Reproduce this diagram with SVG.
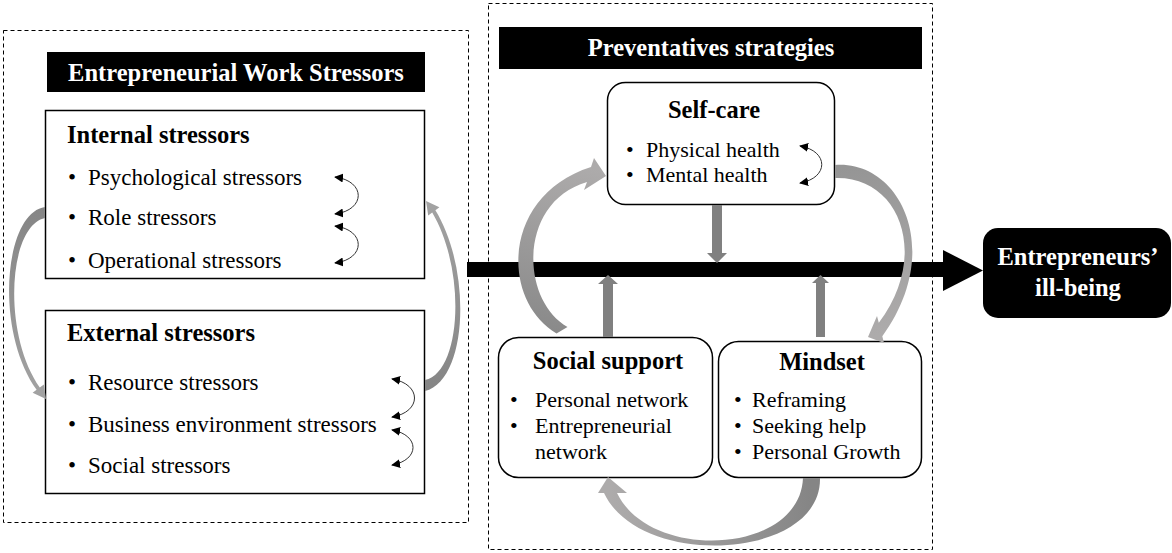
<svg xmlns="http://www.w3.org/2000/svg" width="1172" height="553" viewBox="0 0 1172 553">
  <style>
    text { font-family: "Liberation Serif", "Times New Roman", serif; fill: #000; }
    .hd { font-weight: bold; font-size: 24.5px; }
    .hdw { font-weight: bold; font-size: 24.5px; fill: #fff; text-anchor: middle; }
    .it { font-size: 23px; }
    .it2 { font-size: 22px; }
    .dash { fill: none; stroke: #000; stroke-width: 1; stroke-dasharray: 4 3; }
    .box { fill: #fff; stroke: #000; stroke-width: 1.5; }
    .bar { fill: #000; }
    .thin { fill: none; stroke: #333; stroke-width: 1; marker-start: url(#tip); marker-end: url(#tip); }
    .straight { fill: #808080; }
  </style>
  <defs>
    <marker id="tip" viewBox="0 0 10 10" refX="9" refY="5" markerWidth="9" markerHeight="9" markerUnits="userSpaceOnUse" orient="auto-start-reverse">
      <path d="M0,0 L10,5 L0,10 Z" fill="#000"/>
    </marker>
    <linearGradient id="gA" gradientUnits="userSpaceOnUse" x1="0" y1="207" x2="0" y2="399">
      <stop offset="0" stop-color="#858585"/>
      <stop offset="1" stop-color="#a3a3a3"/>
    </linearGradient>
    <linearGradient id="gB" gradientUnits="userSpaceOnUse" x1="0" y1="390" x2="0" y2="201">
      <stop offset="0" stop-color="#858585"/>
      <stop offset="1" stop-color="#a3a3a3"/>
    </linearGradient>
    <linearGradient id="gC" gradientUnits="userSpaceOnUse" x1="560" y1="332" x2="600" y2="170">
      <stop offset="0" stop-color="#8a8a8a"/>
      <stop offset="1" stop-color="#adabab"/>
    </linearGradient>
    <linearGradient id="gD" gradientUnits="userSpaceOnUse" x1="835" y1="170" x2="875" y2="335">
      <stop offset="0" stop-color="#959595"/>
      <stop offset="1" stop-color="#adabab"/>
    </linearGradient>
    <linearGradient id="gE" gradientUnits="userSpaceOnUse" x1="812" y1="480" x2="610" y2="485">
      <stop offset="0" stop-color="#858585"/>
      <stop offset="1" stop-color="#adabab"/>
    </linearGradient>
  </defs>

  <rect width="1172" height="553" fill="#fff"/>

  <!-- stressors panel -->
  <g id="stressors-panel">
    <rect class="dash" x="3.5" y="30.5" width="465" height="492"/>
    <rect x="47" y="52" width="378" height="40" fill="#000"/>
    <text class="hdw" x="236" y="81">Entrepreneurial Work Stressors</text>
  </g>

  <g id="internal-stressors">
    <rect class="box" x="45.5" y="110.5" width="379" height="168"/>
    <text class="hd" x="67" y="143">Internal stressors</text>
    <text class="it" x="68" y="185">•</text>
    <text class="it" x="88" y="185">Psychological stressors</text>
    <text class="it" x="68" y="225">•</text>
    <text class="it" x="88" y="225">Role stressors</text>
    <text class="it" x="68" y="268">•</text>
    <text class="it" x="88" y="268">Operational stressors</text>
    <path class="thin" d="M335,177 C 366,181 366,210 335,214"/>
    <path class="thin" d="M335,226 C 366,230 366,259 335,263"/>
  </g>

  <g id="external-stressors">
    <rect class="box" x="45.5" y="310.5" width="379" height="183"/>
    <text class="hd" x="67" y="341">External stressors</text>
    <text class="it" x="68" y="390">•</text>
    <text class="it" x="88" y="390">Resource stressors</text>
    <text class="it" x="68" y="432">•</text>
    <text class="it" x="88" y="432">Business environment stressors</text>
    <text class="it" x="68" y="473">•</text>
    <text class="it" x="88" y="473">Social stressors</text>
    <path class="thin" d="M392,379 C 422,384 422,412 392,417"/>
    <path class="thin" d="M392,430 C 420,435 420,460 392,465"/>
  </g>

  <!-- strategies panel -->
  <g id="strategies-panel">
    <rect class="dash" x="488.5" y="3.5" width="444" height="546"/>
    <rect x="499" y="27" width="423" height="42" fill="#000"/>
    <text class="hdw" x="711" y="56">Preventatives strategies</text>
  </g>

  <g id="self-care">
    <rect class="box" x="607.5" y="82.5" width="227" height="122" rx="18"/>
    <text class="hd" x="714" y="118" text-anchor="middle">Self-care</text>
    <text class="it2" x="626" y="157">•</text>
    <text class="it2" x="646" y="157">Physical health</text>
    <text class="it2" x="626" y="182">•</text>
    <text class="it2" x="646" y="182">Mental health</text>
    <path class="thin" d="M800,146 C 829,151 829,178 800,183"/>
  </g>

  <g id="social-support">
    <rect class="box" x="498.5" y="337.5" width="214" height="140" rx="20"/>
    <text class="hd" x="608" y="369" text-anchor="middle">Social support</text>
    <text class="it2" x="510" y="407">•</text>
    <text class="it2" x="535" y="407">Personal network</text>
    <text class="it2" x="510" y="433">•</text>
    <text class="it2" x="535" y="433">Entrepreneurial</text>
    <text class="it2" x="535" y="459">network</text>
  </g>

  <g id="mindset">
    <rect class="box" x="718.5" y="341.5" width="203" height="136" rx="20"/>
    <text class="hd" x="822" y="370" text-anchor="middle">Mindset</text>
    <text class="it2" x="734" y="407">•</text>
    <text class="it2" x="752" y="407">Reframing</text>
    <text class="it2" x="734" y="433">•</text>
    <text class="it2" x="752" y="433">Seeking help</text>
    <text class="it2" x="734" y="459">•</text>
    <text class="it2" x="752" y="459">Personal Growth</text>
  </g>

  <g id="ill-being">
    <rect x="983" y="228" width="188" height="90" rx="15" fill="#000"/>
    <text class="hdw" x="1078" y="265">Entrepreneurs’</text>
    <text class="hdw" x="1078" y="296">ill-being</text>
  </g>

  <!-- connectors -->
  <g id="connectors">
    <!-- main path to ill-being -->
    <rect class="bar" x="467" y="262" width="477" height="15"/>
    <path class="bar" d="M943,250 L983,270.5 L943,291 Z"/>

    <!-- straight block arrows onto the main path -->
    <path class="straight" d="M712,205 L722,205 L722,253 L727,253 L717,263 L707,253 L712,253 Z"/>
    <path class="straight" d="M603,337 L613,337 L613,284 L618,284 L608,275 L598,284 L603,284 Z"/>
    <path class="straight" d="M816,337 L825,337 L825,283 L829,283 L820.5,275 L812,283 L816,283 Z"/>

    <!-- internal to external -->
    <path fill="url(#gA)" d="M45,207 C 4,213 -6,330 36.6,389.8 L32.6,392.8 L46,399 L43.8,384.4 L39.8,387.4 C 2,334 8,226 45,218 Z"/>
    <!-- external to internal -->
    <path fill="url(#gB)" d="M425,391 C 468,380 472,270 435.4,210.2 L439.4,207.2 L426,201 L428.2,215.6 L432.2,212.6 C 467,272 461,372 425,380 Z"/>

    <!-- social support to self-care -->
    <path fill="url(#gC)" d="M556.5,333.5 C 500,300 502,195 591,167 L594,158 L606,176 L584,190 L587,182 C 518,202 520,300 567.5,327 Z"/>
    <!-- self-care to mindset -->
    <path fill="url(#gD)" d="M835,165 C 900,160 945,250 882.3,336.3 L884,343 L868,337 L877,316 L878.8,322.8 C 930,255 900,176 835,178 Z"/>
    <!-- mindset to social support -->
    <path fill="url(#gE)" d="M820,478 C 822,560 640,570 604,493 L598,493 L608,477 L627,493 L617,493 C 650,562 800,555 803,478 Z"/>
  </g>
</svg>
